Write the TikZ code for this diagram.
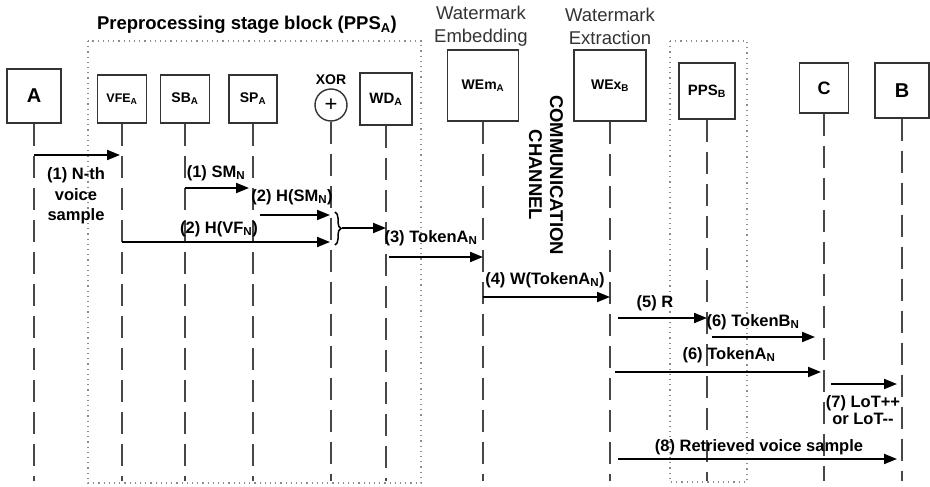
\documentclass[tikz,border=0pt]{standalone}
\usepackage{fontspec}
\setmainfont{Liberation Sans}
\usetikzlibrary{arrows.meta,decorations.pathreplacing,calc}
\begin{document}
\begin{tikzpicture}[x=1pt,y=-1pt,
  box/.style={draw=black!80, line width=1.4pt, fill=white, inner sep=0pt, font=\bfseries\fontsize{14}{16}\selectfont},
  life/.style={draw=black!72, line width=1.3pt, dash pattern=on 22pt off 10pt},
  msg/.style={draw=black, line width=1.9pt, -{Triangle[length=13pt,width=10pt]}},
  lbl/.style={font=\bfseries\fontsize{16.5}{20.5}\selectfont, align=center, inner sep=0pt},
  dotbox/.style={draw=black!45, line width=1.2pt, dash pattern=on 1.2pt off 4pt},
  heading/.style={font=\fontsize{18.5}{23}\selectfont, align=center, text=black!80, inner sep=0pt},
  ]
\useasboundingbox (0,0) rectangle (930,487);
\fill[white] (0,0) rectangle (930,487);

% dotted group boxes
\draw[dotbox] (88,41) rectangle (421,483);
\draw[dotbox] (670,41) rectangle (747,482);

% headings
\node[inner sep=0pt, font=\bfseries\fontsize{18.5}{22}\selectfont] (ttl) at (247,25) {Preprocessing stage block (PPS\textsubscript{A})};
\node[heading] (hemb) at (481,26) {Watermark\\Embedding};
\node[heading] (hext) at (610,26) {Watermark\\Extraction};

% participants
\node[box, minimum width=54pt, minimum height=54pt, font=\bfseries\fontsize{20}{22}\selectfont] (A) at (34,96) {A};
\node[box, minimum width=49pt, minimum height=48pt, font=\bfseries\fontsize{12.5}{14}\selectfont] (VFE) at (122,99) {VFE\textsubscript{A}};
\node[box, minimum width=49pt, minimum height=48pt] (SB) at (185,99) {SB\textsubscript{A}};
\node[box, minimum width=48pt, minimum height=48pt] (SP) at (253,99) {SP\textsubscript{A}};
\node[draw=black!80, line width=1.4pt, circle, minimum size=32pt, inner sep=0pt, font=\fontsize{22}{22}\selectfont] (xor) at (331,105) {+};
\node[inner sep=0pt, font=\bfseries\fontsize{14}{16}\selectfont] (xorlbl) at (331,80) {XOR};
\node[box, minimum width=52pt, minimum height=52pt, font=\bfseries\fontsize{15}{17}\selectfont] (WD) at (386,99) {WD\textsubscript{A}};
\node[box, minimum width=71pt, minimum height=71pt] (WEm) at (483,85.5) {WEm\textsubscript{A}};
\node[box, minimum width=72pt, minimum height=71pt] (WEx) at (610,85.5) {WEx\textsubscript{B}};
\node[box, minimum width=56pt, minimum height=56pt, font=\bfseries\fontsize{15}{17}\selectfont] (PPSB) at (707,91) {PPS\textsubscript{B}};
\node[box, minimum width=49pt, minimum height=50pt, font=\bfseries\fontsize{18}{20}\selectfont] (C) at (824,88) {C};
\node[box, minimum width=54pt, minimum height=55pt, font=\bfseries\fontsize{20}{22}\selectfont] (B) at (902,90.5) {B};

% lifelines
\foreach \n in {A,VFE,SB,SP,xor,WD,WEm,WEx,PPSB,C,B}
  \draw[life] (\n.south) -- (\n.south |- 0,481);

% communication channel
\node[rotate=-90, inner sep=0pt, align=center, font=\bfseries\fontsize{18.5}{21}\selectfont] (chan) at (546,175) {COMMUNICATION\\CHANNEL};

% messages
\draw[msg, shorten >=2pt] (A |- 0,155) -- (VFE |- 0,155);
\node[lbl] (l1) at (76,196) {(1) N-th\\voice\\sample};

\draw[msg, shorten >=4pt] (SB |- 0,188) -- (SP |- 0,188);
\node[lbl] (l2) at (216,173) {(1) SM\textsubscript{N}};

\draw[msg, shorten <=7pt, shorten >=1pt] (SP |- 0,215) -- (xor |- 0,215);
\node[lbl] (l3) at (292,197) {(2) H(SM\textsubscript{N})};

\draw[msg, shorten >=1pt] (VFE |- 0,242) -- (xor |- 0,242);
\node[lbl] (l4) at (219,229) {(2) H(VF\textsubscript{N})};

\draw[line width=1.5pt, decorate, decoration={brace, amplitude=6pt}] (335,212) -- (335,245);
\coordinate (brtip) at (342,228);
\draw[msg] (brtip) -- (WD |- brtip);

\draw[msg, shorten <=3pt] (WD |- 0,257) -- (WEm |- 0,257);
\node[lbl] (l5) at (431,238) {(3) TokenA\textsubscript{N}};

\draw[msg] (WEm |- 0,297) -- (WEx |- 0,297);
\node[lbl] (l6) at (545,280) {(4) W(TokenA\textsubscript{N})};

\draw[msg, shorten <=8pt] (WEx |- 0,318) -- (PPSB |- 0,318);
\node[lbl] (l7) at (655,303) {(5) R};

\draw[msg, shorten <=5pt, shorten >=9pt] (PPSB |- 0,337) -- (C |- 0,337);
\node[lbl] (l8) at (753,322) {(6) TokenB\textsubscript{N}};

\draw[msg, shorten <=5pt, shorten >=3pt] (WEx |- 0,372) -- (C |- 0,372);
\node[lbl] (l9) at (729,355) {(6) TokenA\textsubscript{N}};

\draw[msg, shorten <=7pt, shorten >=5pt] (C |- 0,384) -- (B |- 0,384);
\node[lbl, font=\bfseries\fontsize{16.5}{17.7}\selectfont] (l10) at (863,410) {(7) LoT++\\or LoT-{}-};

\draw[msg, shorten <=8pt, shorten >=5pt] (WEx |- 0,459) -- (B |- 0,459);
\node[lbl] (l11) at (759,447) {(8) Retrieved voice sample};
\end{tikzpicture}
\end{document}
